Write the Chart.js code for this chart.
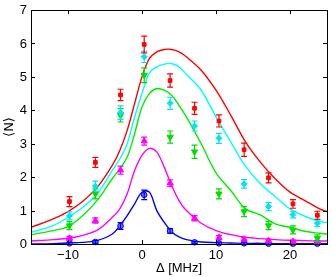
<!DOCTYPE html>
<html>
<head>
<meta charset="utf-8">
<script src="https://cdn.jsdelivr.net/npm/chart.js@4"></script>
<style>
  html, body { margin: 0; background: #fff; }
  #wrap { width: 332px; height: 277px; }
</style>
</head>
<body>
<div id="wrap"><canvas id="c"></canvas></div>
<script>
// measured detunings (MHz) and mean atom number per series
var detuning = [-9.8, -6.3, -2.9, 0.3, 3.8, 7.1, 10.4, 13.8, 17.1, 20.4, 23.7];
var redPts = [1.27, 2.44, 4.46, 5.97, 4.89, 4.06, 3.68, 2.82, 1.98, 1.2, 0.86];
var redErr = [0.15, 0.15, 0.17, 0.25, 0.2, 0.18, 0.18, 0.2, 0.15, 0.13, 0.12];
var cyanPts = [0.84, 1.73, 3.93, 5.6, 4.21, 3.53, 3.16, 1.8, 1.12, 0.88, 0.62];
var cyanErr = [0.12, 0.15, 0.2, 0.17, 0.18, 0.15, 0.15, 0.13, 0.12, 0.1, 0.1];
var greenPts = [0.55, 1.5, 3.85, 5.05, 3.2, 2.76, 1.5, 0.97, 0.55, 0.42, 0.17];
var greenErr = [0.12, 0.15, 0.2, 0.22, 0.18, 0.2, 0.15, 0.15, 0.12, 0.12, 0.1];
var magentaPts = [0.17, 0.7, 2.21, 3.08, 1.82, 0.77, 0.19, 0.14, 0.1, 0.07, 0.06];
var magentaErr = [0.06, 0.08, 0.12, 0.12, 0.1, 0.08, 0.06, 0.05, 0.05, 0.05, 0.05];
var bluePts = [0.02, 0.06, 0.54, 1.47, 0.39, 0.05, 0.02, 0.02, 0.01, 0.01, 0.01];
var blueErr = [0.03, 0.04, 0.1, 0.14, 0.07, 0.03, 0.03, 0.03, 0.03, 0.03, 0.03];

// model curves
var curveX = [-15, -12, -10, -8, -6, -4, -3, -2, -1, 0, 1, 2, 3, 4, 5, 6, 8, 10, 12, 14, 16, 18, 20, 22, 24, 25];
var redCurve = [0.5, 0.75, 0.97, 1.28, 1.71, 2.36, 2.8, 3.4, 4.2, 5.0, 5.55, 5.75, 5.82, 5.82, 5.75, 5.6, 5.2, 4.6, 3.85, 3.05, 2.45, 1.95, 1.55, 1.3, 1.05, 0.97];
var cyanCurve = [0.35, 0.55, 0.8, 1.1, 1.52, 2.21, 2.55, 3.0, 3.8, 4.5, 5.12, 5.3, 5.38, 5.4, 5.3, 5.08, 4.6, 3.8, 3.05, 2.32, 1.8, 1.42, 1.05, 0.83, 0.68, 0.64];
var greenCurve = [0.28, 0.4, 0.52, 0.85, 1.32, 1.96, 2.25, 2.6, 3.3, 4.1, 4.5, 4.65, 4.6, 4.45, 4.15, 3.8, 3.0, 2.13, 1.6, 1.05, 0.87, 0.6, 0.5, 0.38, 0.32, 0.3];
var magentaCurve = [0.09, 0.13, 0.17, 0.26, 0.42, 0.8, 1.05, 1.5, 2.2, 2.65, 2.86, 2.75, 2.3, 1.75, 1.3, 1.0, 0.62, 0.4, 0.28, 0.2, 0.16, 0.13, 0.11, 0.1, 0.09, 0.09];
var blueCurve = [0.0, 0.01, 0.03, 0.05, 0.11, 0.3, 0.55, 0.85, 1.2, 1.55, 1.55, 1.0, 0.65, 0.37, 0.21, 0.13, 0.06, 0.04, 0.03, 0.02, 0.02, 0.01, 0.01, 0.01, 0.01, 0.01];

var xTicks = [-10, 0, 10, 20];
var yTicks = [0, 1, 2, 3, 4, 5, 6, 7];

var FONT = "'Liberation Sans', Arial, 'DejaVu Sans', sans-serif";

function pairs(xs, ys) {
  return xs.map(function (x, i) { return { x: x, y: ys[i] }; });
}

function curve(ys, color) {
  return {
    data: pairs(curveX, ys),
    showLine: true,
    borderColor: color,
    borderWidth: 1.4,
    pointRadius: 0,
    tension: 0.35,
    order: 2
  };
}

function points(ys, errs, color, style, radius, rot, fill) {
  return {
    data: pairs(detuning, ys),
    errors: errs,
    showLine: false,
    borderColor: color,
    backgroundColor: fill || color,
    pointStyle: style,
    pointRadius: radius,
    pointRotation: rot || 0,
    pointBorderWidth: 1,
    clip: false,
    order: 1
  };
}

var errorBars = {
  id: "errorBars",
  afterDatasetDraw: function (chart, args) {
    var ds = chart.data.datasets[args.index];
    if (!ds.errors) return;
    var ctx = chart.ctx, xs = chart.scales.x, ys = chart.scales.y;
    ctx.save();
    ctx.strokeStyle = ds.borderColor;
    ctx.lineWidth = 1.2;
    ds.data.forEach(function (p, j) {
      var px = xs.getPixelForValue(p.x);
      var lo = ys.getPixelForValue(p.y - ds.errors[j]);
      var hi = ys.getPixelForValue(p.y + ds.errors[j]);
      ctx.beginPath();
      ctx.moveTo(px, lo); ctx.lineTo(px, hi);
      ctx.moveTo(px - 3, lo); ctx.lineTo(px + 3, lo);
      ctx.moveTo(px - 3, hi); ctx.lineTo(px + 3, hi);
      ctx.stroke();
    });
    ctx.restore();
  }
};

// box around the plot with inward ticks on all four sides, plus the y tick labels
// (chart.js kept dropping the top "7", so those are placed here from the y scale)
var frame = {
  id: "frame",
  afterDraw: function (chart) {
    var a = chart.chartArea, ctx = chart.ctx;
    var xs = chart.scales.x, ys = chart.scales.y;
    ctx.save();
    ctx.strokeStyle = "#000";
    ctx.lineWidth = 1;
    ctx.strokeRect(Math.round(a.left) + 0.5, Math.round(a.top) + 0.5,
      Math.round(a.right - a.left), Math.round(a.bottom - a.top));
    ctx.beginPath();
    xTicks.forEach(function (v) {
      var px = Math.round(xs.getPixelForValue(v)) + 0.5;
      ctx.moveTo(px, a.bottom); ctx.lineTo(px, a.bottom - 4);
      ctx.moveTo(px, a.top); ctx.lineTo(px, a.top + 4);
    });
    yTicks.forEach(function (v) {
      var py = Math.round(ys.getPixelForValue(v)) + 0.5;
      ctx.moveTo(a.left, py); ctx.lineTo(a.left + 4, py);
      ctx.moveTo(a.right, py); ctx.lineTo(a.right - 4, py);
    });
    ctx.stroke();

    ctx.fillStyle = "#000";
    ctx.font = "13px " + FONT;
    ctx.textAlign = "right";
    ctx.textBaseline = "middle";
    yTicks.forEach(function (v) {
      ctx.fillText(String(v), a.left - 4, ys.getPixelForValue(v) + 0.5);
    });
    ctx.restore();
  }
};

new Chart(document.getElementById("c").getContext("2d"), {
  type: "scatter",
  data: {
    datasets: [
      points(redPts, redErr, "#ff0000", "rect", 2.6),
      points(cyanPts, cyanErr, "#00e5ee", "rectRot", 3),
      points(greenPts, greenErr, "#00dd00", "triangle", 3.6, 180),
      points(magentaPts, magentaErr, "#ff00ff", "triangle", 3.6),
      points(bluePts, blueErr, "#0000ff", "circle", 2.8, 0, "#7070ff"),
      curve(redCurve, "#ff0000"),
      curve(cyanCurve, "#00ffff"),
      curve(greenCurve, "#00ee00"),
      curve(magentaCurve, "#ff00ff"),
      curve(blueCurve, "#0000ff")
    ]
  },
  options: {
    responsive: true,
    maintainAspectRatio: false,
    animation: false,
    layout: { padding: { top: 10, right: 2, left: 0, bottom: 0 } },
    plugins: { legend: { display: false }, tooltip: { enabled: false } },
    scales: {
      x: {
        type: "linear",
        min: -15,
        max: 25,
        afterBuildTicks: function (s) { s.ticks = xTicks.map(function (v) { return { value: v }; }); },
        afterFit: function (s) { s.height = 33; },
        grid: { display: false, drawTicks: false },
        border: { display: false },
        ticks: {
          autoSkip: false,
          maxRotation: 0,
          padding: 4,
          color: "#000",
          font: { family: FONT, size: 13 },
          callback: function (v) { return String(v).replace("-", "\u2212"); }
        },
        title: {
          display: true,
          text: "\u0394 [MHz]",
          color: "#000",
          font: { family: FONT, size: 13 },
          padding: { top: 0, bottom: 1 }
        }
      },
      y: {
        type: "linear",
        min: 0,
        max: 7,
        afterFit: function (s) { s.width = 31; },
        grid: { display: false, drawTicks: false },
        border: { display: false },
        ticks: { display: false, stepSize: 1 },
        title: {
          display: true,
          text: "\u27E8N\u27E9",
          color: "#000",
          font: { family: "'DejaVu Sans', sans-serif", size: 13 },
          padding: { top: 2, bottom: 0 }
        }
      }
    }
  },
  plugins: [errorBars, frame]
});
</script>
</body>
</html>
